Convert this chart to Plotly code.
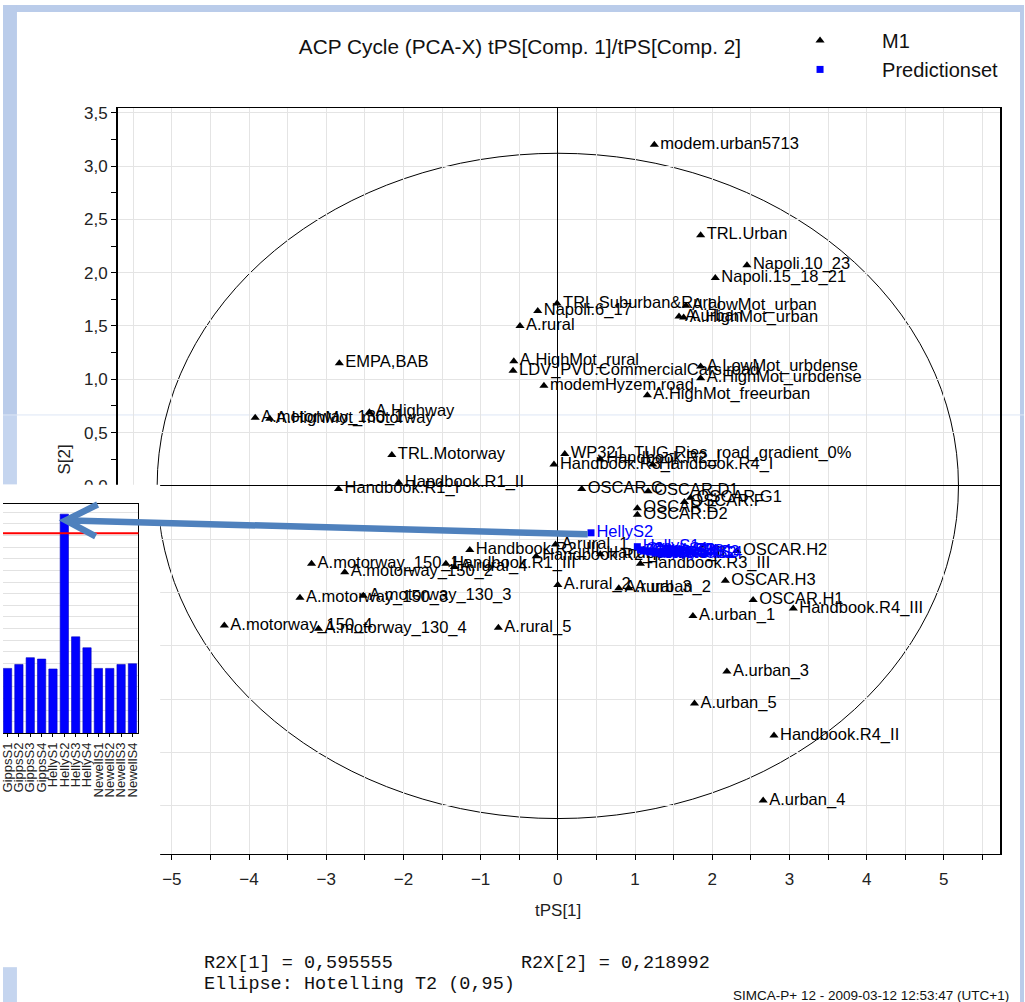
import plotly.graph_objects as go

W, H = 1025, 1002

# ---------------- data ----------------
m1_labels = [
    "modem.urban5713", "TRL.Urban", "Napoli.10_23", "Napoli.15_18_21",
    "TRL.Suburban&Rural", "A.LowMot_urban", "A.urban", "A.HighMot_urban",
    "Napoli.6_17", "A.rural", "A.HighMot_rural", "LDV_PVU.CommercialCars.road",
    "modemHyzem.road", "A.LowMot_urbdense", "A.HighMot_urbdense", "A.HighMot_freeurban",
    "EMPA,BAB", "A.motorway_130_1", "A.HighMot_motorway", "A.Highway",
    "TRL.Motorway", "Handbook.R1_II", "Handbook.R1_I", "WP321_TUG-Ries_road_gradient_0%",
    "Handbook.R3_I", "Handbook.R2_I", "Handbook.R4_I", "OSCAR.C",
    "OSCAR.D1", "OSCAR.E", "OSCAR.D2", "OSCAR.F",
    "OSCAR.G1", "Handbook.R2_III", "Handbook.R1_III", "A.rural_4",
    "A.rural_1", "Handbook.R2_II", "Handbook.R3_II", "Handbook.R3_III",
    "OSCAR.H2", "A.rural_2", "A.rural_3", "A.urban_2",
    "OSCAR.H3", "OSCAR.H1", "Handbook.R4_III", "A.urban_1",
    "A.motorway_150_1", "A.motorway_150_2", "A.motorway_150_3", "A.motorway_130_3",
    "A.motorway_150_4", "A.motorway_130_4", "A.rural_5", "A.urban_3",
    "A.urban_5", "Handbook.R4_II", "A.urban_4",
]
m1_x = [
    1.25, 1.85, 2.45, 2.04,
    -0.01, 1.66, 1.57, 1.63,
    -0.26, -0.49, -0.57, -0.58,
    -0.18, 1.85, 1.85, 1.16,
    -2.83, -3.92, -3.73, -2.44,
    -2.15, -2.06, -2.84, 0.09,
    -0.05, 0.55, 1.23, 0.31,
    1.17, 1.03, 1.03, 1.64,
    1.72, -1.14, -1.45, -1.34,
    -0.03, -0.28, 0.55, 1.07,
    2.32, 0.00, 0.79, 0.92,
    2.17, 2.53, 3.05, 1.75,
    -3.19, -2.76, -3.34, -2.52,
    -4.32, -3.10, -0.77, 2.19,
    1.77, 2.80, 2.66,
]
m1_y = [
    3.20, 2.35, 2.07, 1.95,
    1.71, 1.69, 1.59, 1.58,
    1.64, 1.50, 1.17, 1.08,
    0.94, 1.12, 1.01, 0.85,
    1.15, 0.64, 0.63, 0.69,
    0.29, 0.03, -0.03, 0.30,
    0.20, 0.25, 0.20, -0.03,
    -0.05, -0.21, -0.27, -0.15,
    -0.11, -0.60, -0.73, -0.76,
    -0.55, -0.66, -0.64, -0.73,
    -0.61, -0.93, -0.96, -0.96,
    -0.89, -1.07, -1.15, -1.22,
    -0.73, -0.81, -1.05, -1.03,
    -1.31, -1.34, -1.33, -1.74,
    -2.04, -2.34, -2.95,
]

pred_labels = ["HellyS2", "HellyS1", "GippsS1", "GippsS2", "GippsS3", "GippsS4",
               "HellyS3", "HellyS4", "NewellS1", "NewellS2", "NewellS3", "NewellS4"]
pred_x = [0.43, 1.03, 1.07, 1.11, 1.15, 1.19, 1.23, 1.26, 1.30, 1.34, 1.38, 1.42]
pred_y = [-0.44, -0.57, -0.60, -0.61, -0.61, -0.62, -0.61, -0.63, -0.62, -0.64, -0.63, -0.64]

inset_categories = ["GippsS1", "GippsS2", "GippsS3", "GippsS4", "HellyS1", "HellyS2",
                    "HellyS3", "HellyS4", "NewellS1", "NewellS2", "NewellS3", "NewellS4"]
inset_values = [5.58, 5.92, 6.50, 6.38, 5.53, 18.83, 8.29, 7.35, 5.58, 5.58, 5.92, 5.98]
inset_limit = 17.2

r2x_values = ["0,595555", "0,218992"]
ellipse_semi_axes = (5.19, 3.12)

title_text = "ACP Cycle (PCA-X) tPS[Comp. 1]/tPS[Comp. 2]"
footer_text = "SIMCA-P+ 12 - 2009-03-12 12:53:47 (UTC+1)"

# ---------------- helpers ----------------
def px(x):
    return x / W

def py(y):
    return 1 - y / H

SANS = "Liberation Sans, Arial, Helvetica, sans-serif"
MONO = "Liberation Mono, Courier New, monospace"
BLUE_BG = "rgb(186,204,234)"
BLUE_BG2 = "rgb(197,213,239)"
ARROW = "rgb(79,129,189)"

fig = go.Figure()

# main scatter
fig.add_trace(go.Scatter(
    x=m1_x, y=m1_y, text=m1_labels, mode="markers+text", name="M1",
    marker=dict(symbol="triangle-up", size=8, color="black"),
    textposition="middle right", textfont=dict(family=SANS, size=16.5, color="black"),
    xaxis="x", yaxis="y", cliponaxis=False,
))
fig.add_trace(go.Scatter(
    x=pred_x, y=pred_y, text=pred_labels, mode="markers+text", name="Predictionset",
    marker=dict(symbol="square", size=7, color="rgb(0,0,255)"),
    textposition="middle right", textfont=dict(family=SANS, size=16.5, color="rgb(0,0,255)"),
    xaxis="x", yaxis="y", cliponaxis=False,
))

# white box under the inset chart (covers the corner of the main plot)
fig.add_trace(go.Scatter(
    x=[0, 1, 1, 0, 0], y=[0, 0, 1, 1, 0], mode="lines", fill="toself",
    fillcolor="white", line=dict(width=0, color="white"),
    xaxis="x2", yaxis="y2", showlegend=False, hoverinfo="skip",
))

# inset bar chart
fig.add_trace(go.Bar(
    x=list(range(len(inset_categories))), y=inset_values,
    marker=dict(color="rgb(0,0,255)", line=dict(color="rgb(0,0,190)", width=0.6)),
    width=0.73, xaxis="x3", yaxis="y3", showlegend=False,
))

GRID = "rgb(228,228,228)"

fig.update_layout(
    width=W, height=H, autosize=False,
    margin=dict(l=0, r=0, t=0, b=0, pad=0),
    paper_bgcolor="white", plot_bgcolor="rgba(0,0,0,0)",
    separators=", ",
    font=dict(family=SANS, color="black"),
    title=dict(text=title_text, x=px(519), xanchor="center", y=py(42), yanchor="middle",
               xref="paper", yref="paper", font=dict(family=SANS, size=20.8, color="#111")),
    showlegend=True,
    legend=dict(x=px(758), y=py(16), xanchor="left", yanchor="top",
                font=dict(family=SANS, size=20, color="#111"), bgcolor="rgba(0,0,0,0)",
                itemwidth=114, tracegroupgap=0),
    bargap=0,
    xaxis=dict(
        domain=[px(115), px(1001)], range=[-5.703, 5.729], anchor="y",
        tick0=0, dtick=1, ticks="outside", ticklen=5, tickcolor="black", tickwidth=1,
        minor=dict(dtick=0.5, tick0=0, ticks="outside", ticklen=5, tickcolor="black",
                   showgrid=True, gridcolor=GRID, gridwidth=1),
        showgrid=True, gridcolor=GRID, gridwidth=1,
        zeroline=True, zerolinecolor="black", zerolinewidth=1,
        showline=True, linecolor="black", linewidth=1.5, mirror=True,
        tickfont=dict(family=SANS, size=17, color="#222"), ticklabelstandoff=4,
        fixedrange=True,
    ),
    yaxis=dict(
        domain=[py(853), py(104)], range=[-3.45, 3.54], anchor="x",
        tick0=0, dtick=0.5, tickformat=".1f", ticks="outside", ticklen=5,
        tickcolor="black", tickwidth=1,
        minor=dict(dtick=0.25, tick0=0, ticks="outside", ticklen=5, tickcolor="black",
                   showgrid=False),
        showgrid=True, gridcolor=GRID, gridwidth=1,
        zeroline=True, zerolinecolor="black", zerolinewidth=1,
        showline=True, linecolor="black", linewidth=1.5, mirror=True,
        tickfont=dict(family=SANS, size=17, color="#222"),
        fixedrange=True,
    ),
    xaxis2=dict(domain=[0, px(158)], range=[0, 1], anchor="y2", visible=False, fixedrange=True),
    yaxis2=dict(domain=[py(870), py(482)], range=[0, 1], anchor="x2", visible=False, fixedrange=True),
    xaxis3=dict(
        domain=[0, px(136)], range=[-0.40, 11.53], anchor="y3",
        tickmode="array", tickvals=list(range(len(inset_categories))), ticktext=inset_categories,
        tickangle=-90, ticks="outside", ticklen=3, tickcolor="black",
        tickfont=dict(family=SANS, size=13, color="#222"), ticklabeloverflow="allow",
        showgrid=False, zeroline=False,
        showline=True, linecolor="black", linewidth=1, mirror=True, fixedrange=True,
    ),
    yaxis3=dict(
        domain=[py(732), py(502)], range=[0, 19.66], anchor="x3", side="right",
        dtick=1, showticklabels=False, ticks="",
        showgrid=True, gridcolor="rgb(226,226,226)", gridwidth=1, zeroline=False,
        showline=True, linecolor="black", linewidth=1, fixedrange=True,
    ),
)

shapes = [
    # slide background strips
    dict(type="rect", xref="paper", yref="paper", x0=0, x1=1, y0=py(7), y1=1,
         fillcolor=BLUE_BG, line=dict(width=0), layer="below"),
    dict(type="rect", xref="paper", yref="paper", x0=0, x1=px(14), y0=py(412), y1=1,
         fillcolor=BLUE_BG, line=dict(width=0), layer="below"),
    dict(type="rect", xref="paper", yref="paper", x0=0, x1=px(14), y0=py(482), y1=py(412),
         fillcolor=BLUE_BG2, line=dict(width=0), layer="below"),
    dict(type="rect", xref="paper", yref="paper", x0=0, x1=px(14), y0=0, y1=py(967),
         fillcolor=BLUE_BG2, line=dict(width=0), layer="below"),
    dict(type="rect", xref="paper", yref="paper", x0=px(1021), x1=1, y0=0, y1=1,
         fillcolor=BLUE_BG, line=dict(width=0), layer="below"),
    dict(type="line", xref="paper", yref="paper", x0=0, x1=1, y0=py(412), y1=py(412),
         line=dict(color="rgb(222,231,245)", width=1), layer="below"),
    # Hotelling T2 ellipse
    dict(type="circle", xref="x", yref="y",
         x0=-ellipse_semi_axes[0], x1=ellipse_semi_axes[0],
         y0=-ellipse_semi_axes[1], y1=ellipse_semi_axes[1],
         line=dict(color="black", width=1), fillcolor="rgba(0,0,0,0)", layer="below"),
    # inset limit line
    dict(type="line", xref="x3 domain", yref="y3", x0=0, x1=1, y0=inset_limit, y1=inset_limit,
         line=dict(color="rgb(255,0,0)", width=2), layer="above"),
    # arrow
    dict(type="line", xref="paper", yref="paper", x0=px(587), y0=py(532), x1=px(68), y1=py(518),
         line=dict(color=ARROW, width=6.5), layer="above"),
    dict(type="path", xref="paper", yref="paper",
         path=f"M {px(95)},{py(502)} L {px(63)},{py(518)} L {px(93)},{py(534)}",
         line=dict(color=ARROW, width=6.5), fillcolor="rgba(0,0,0,0)", layer="above"),
]
fig.update_layout(shapes=shapes)

annotations = [
    dict(text="S[2]", x=px(62), y=py(457), xref="paper", yref="paper", showarrow=False,
         textangle=-90, font=dict(family=SANS, size=17, color="#222"),
         xanchor="center", yanchor="middle"),
    dict(text="tPS[1]", x=px(557), y=py(910), xref="paper", yref="paper", showarrow=False,
         font=dict(family=SANS, size=17, color="#222"), xanchor="center", yanchor="middle"),
    dict(text=f"R2X[1] = {r2x_values[0]}", x=px(200), y=py(963), xref="paper", yref="paper",
         showarrow=False, font=dict(family=MONO, size=18.5, color="#111"),
         xanchor="left", yanchor="middle"),
    dict(text=f"R2X[2] = {r2x_values[1]}", x=px(518), y=py(963), xref="paper", yref="paper",
         showarrow=False, font=dict(family=MONO, size=18.5, color="#111"),
         xanchor="left", yanchor="middle"),
    dict(text="Ellipse: Hotelling T2 (0,95)", x=px(200), y=py(984), xref="paper", yref="paper",
         showarrow=False, font=dict(family=MONO, size=18.5, color="#111"),
         xanchor="left", yanchor="middle"),
    dict(text=footer_text, x=px(1012), y=py(995), xref="paper", yref="paper",
         showarrow=False, font=dict(family=SANS, size=13.5, color="#111"),
         xanchor="right", yanchor="middle"),
]
fig.update_layout(annotations=annotations)

fig.write_html(
    "out.html",
    config={"displayModeBar": False, "staticPlot": True},
    post_script="document.body.style.margin='0';document.body.style.overflow='hidden';",
)
